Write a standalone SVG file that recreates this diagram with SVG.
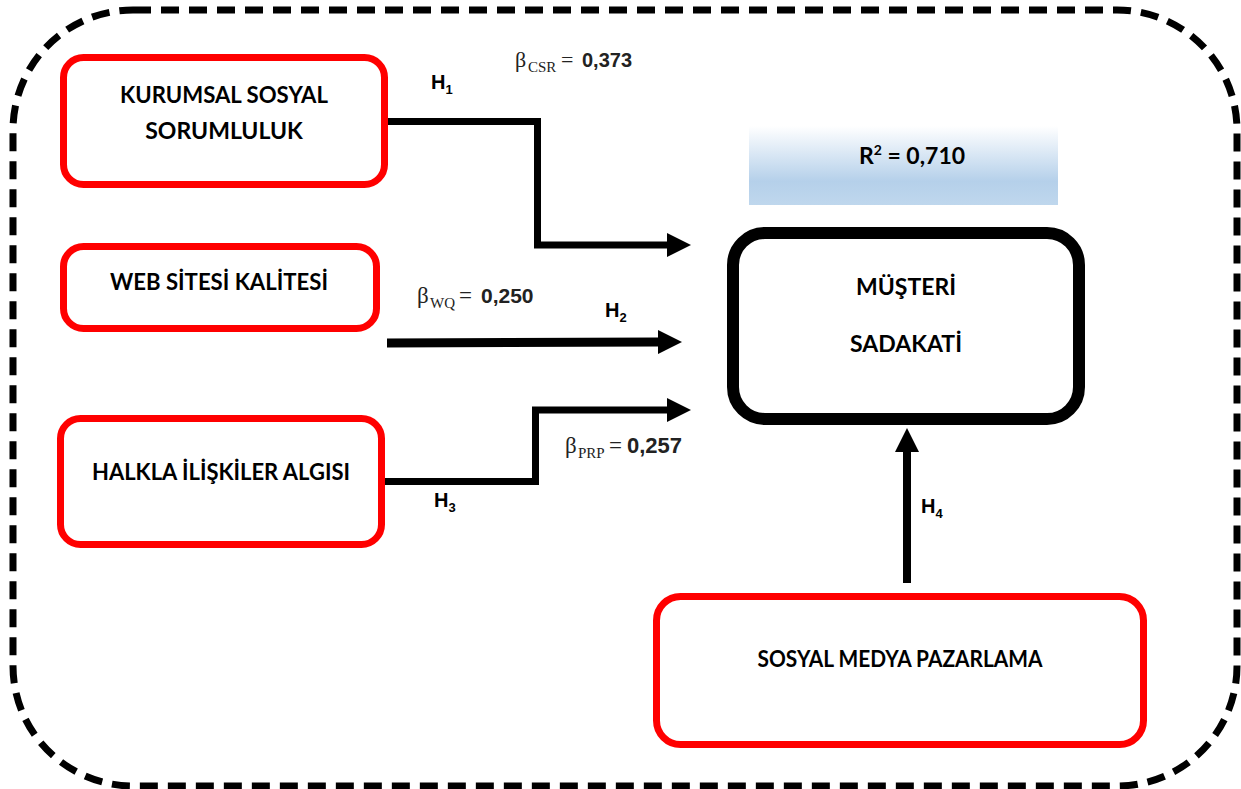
<svg xmlns="http://www.w3.org/2000/svg" width="1241" height="789" viewBox="0 0 1241 789">
  <defs>
    <linearGradient id="rgrad" x1="0" y1="0" x2="0" y2="1">
      <stop offset="0" stop-color="#ffffff"/>
      <stop offset="0.7" stop-color="#b5d0ea"/>
      <stop offset="1" stop-color="#bfd7ed"/>
    </linearGradient>
    <marker id="arr" markerUnits="userSpaceOnUse" markerWidth="24" markerHeight="24" refX="0" refY="12" orient="auto" viewBox="0 0 24 24">
      <path d="M0,0 L24,12 L0,24 z" fill="#000"/>
    </marker>
  </defs>
  <style>
    .red { fill: #fff; stroke: #ff0000; stroke-width: 7; }
    .node { font-family: Lato, "Open Sans", sans-serif; font-weight: bold; font-size: 23px; fill: #000; text-anchor: middle; }
    .conn { fill: none; stroke: #000; stroke-linejoin: miter; }
    .hl { font-family: "Liberation Sans", Arial, sans-serif; font-weight: bold; font-size: 20px; fill: #000; }
    .hs { font-size: 13px; }
    .ser { font-family: "Liberation Serif", "Times New Roman", serif; fill: #222; }
    .num { font-family: "Liberation Sans", Arial, sans-serif; font-weight: bold; fill: #222; }
  </style>
  <rect width="1241" height="789" fill="#fff"/>
  <rect x="13" y="10" width="1224" height="776" rx="120" ry="120" fill="none" stroke="#000" stroke-width="7" stroke-dasharray="18 10"/>

  <g id="r2">
    <rect x="749" y="126" width="309" height="79" fill="url(#rgrad)"/>
    <text x="912" y="164" class="node" style="font-size:23px">R<tspan dy="-9" style="font-size:14px">2</tspan><tspan dy="9"> = 0,710</tspan></text>
  </g>

  <g id="kss">
    <rect x="63.5" y="57.5" width="321" height="127" rx="20" class="red"/>
    <text x="224" y="103" class="node" textLength="208" lengthAdjust="spacingAndGlyphs">KURUMSAL SOSYAL</text>
    <text x="224" y="139" class="node">SORUMLULUK</text>
  </g>
  <g id="wsk">
    <rect x="63.5" y="246.5" width="313" height="82" rx="20" class="red"/>
    <text x="219" y="290" class="node" textLength="218" lengthAdjust="spacingAndGlyphs">WEB SİTESİ KALİTESİ</text>
  </g>
  <g id="hia">
    <rect x="60.5" y="418.5" width="321" height="126" rx="20" class="red"/>
    <text x="221" y="480" class="node" textLength="258" lengthAdjust="spacingAndGlyphs">HALKLA İLİŞKİLER ALGISI</text>
  </g>
  <g id="ms">
    <rect x="733" y="233" width="346" height="186" rx="32" fill="#fff" stroke="#000" stroke-width="12"/>
    <text x="906" y="295" class="node">MÜŞTERİ</text>
    <text x="906" y="352" class="node">SADAKATİ</text>
  </g>
  <g id="smp">
    <rect x="656.5" y="596.5" width="487" height="148" rx="24" class="red"/>
    <text x="900" y="667" class="node" textLength="285" lengthAdjust="spacingAndGlyphs">SOSYAL MEDYA PAZARLAMA</text>
  </g>

  <g id="connectors">
    <path class="conn" stroke-width="7" d="M388,121.5 H537.5 V245 H667" marker-end="url(#arr)"/>
    <path class="conn" stroke-width="9" d="M387,343 L658,342" marker-end="url(#arr)"/>
    <path class="conn" stroke-width="7" d="M385,481.5 H535.5 V410 H667" marker-end="url(#arr)"/>
    <path class="conn" stroke-width="8" d="M907,583 V452" marker-end="url(#arr)"/>
  </g>

  <g id="labels">
    <text x="431" y="89" class="hl">H<tspan class="hs" dy="5">1</tspan></text>
    <text x="605" y="317" class="hl">H<tspan class="hs" dy="5">2</tspan></text>
    <text x="434" y="507" class="hl">H<tspan class="hs" dy="5">3</tspan></text>
    <text x="921" y="513" class="hl">H<tspan class="hs" dy="5">4</tspan></text>

    <text y="67"><tspan x="515" class="ser" style="font-size:22px">β</tspan><tspan x="528" dy="5" class="ser" style="font-size:15px">CSR</tspan><tspan x="561" dy="-5" class="ser" style="font-size:22px">=</tspan><tspan x="582" class="num" style="font-size:20px">0,373</tspan></text>
    <text y="303"><tspan x="417" class="ser" style="font-size:23px">β</tspan><tspan x="430" dy="5" class="ser" style="font-size:15px">WQ</tspan><tspan x="459" dy="-5" class="ser" style="font-size:23px">=</tspan><tspan x="481" class="num" style="font-size:21px">0,250</tspan></text>
    <text y="453"><tspan x="565" class="ser" style="font-size:23px">β</tspan><tspan x="578" dy="5" class="ser" style="font-size:15px">PRP</tspan><tspan x="609" dy="-5" class="ser" style="font-size:23px">=</tspan><tspan x="627" class="num" style="font-size:22px">0,257</tspan></text>
  </g>
</svg>
